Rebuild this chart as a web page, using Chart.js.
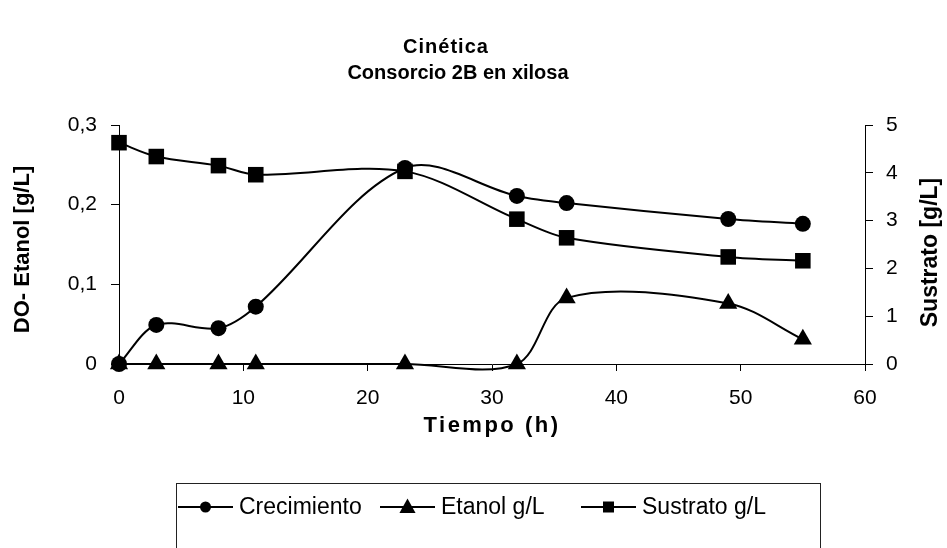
<!DOCTYPE html>
<html>
<head>
<meta charset="utf-8">
<script src="https://cdn.jsdelivr.net/npm/chart.js@4.4.1/dist/chart.umd.min.js"></script>
<style>
  html, body { margin: 0; padding: 0; background: #fff; }
  #chart { display: block; }
</style>
</head>
<body>
<canvas id="chart" width="947" height="548"></canvas>
<script>
// data
const tiempo = [0, 3, 8, 11, 23, 32, 36, 49, 55];
const crecimiento = [0, 0.049, 0.045, 0.072, 0.246, 0.211, 0.202, 0.182, 0.176];
const etanol = [0, 0, 0, 0, 0, 0, 0.083, 0.076, 0.031];
const sustrato = [4.63, 4.34, 4.15, 3.96, 4.03, 3.03, 2.64, 2.24, 2.16];

const xTicks = [0, 10, 20, 30, 40, 50, 60];
const leftTicks = [0, 0.1, 0.2, 0.3];
const rightTicks = [0, 1, 2, 3, 4, 5];

const titleLines = ['Cinética', 'Consorcio 2B en xilosa'];
const xTitle = 'Tiempo (h)';
const leftTitle = 'DO- Etanol [g/L]';
const rightTitle = 'Sustrato [g/L]';
const seriesNames = ['Crecimiento', 'Etanol g/L', 'Sustrato g/L'];

const FONT = '"Liberation Sans", Arial, sans-serif';

const toPoints = (ys) => tiempo.map((x, i) => ({ x, y: ys[i] }));
const fixTicks = (list) => (scale) => { scale.ticks = list.map(v => ({ value: v })); };
const comma = (v) => (v === 0 ? '0' : v.toFixed(1).replace('.', ','));

function drawMarker(ctx, style, x, y, r) {
  ctx.beginPath();
  if (style === 'circle') {
    ctx.arc(x, y, r, 0, Math.PI * 2);
  } else if (style === 'triangle') {
    ctx.moveTo(x, y - r);
    ctx.lineTo(x + r * 0.95, y + r * 0.7);
    ctx.lineTo(x - r * 0.95, y + r * 0.7);
    ctx.closePath();
  } else {
    ctx.rect(x - r, y - r, r * 2, r * 2);
  }
  ctx.fill();
}

const textPlugin = {
  id: 'texts',
  afterDraw(chart) {
    const ctx = chart.ctx;
    const area = chart.chartArea;
    ctx.save();
    ctx.fillStyle = '#000';
    ctx.textAlign = 'center';
    ctx.textBaseline = 'middle';

    // titles
    ctx.font = 'bold 20px ' + FONT;
    ctx.letterSpacing = '1px';
    ctx.fillText(titleLines[0], 446, 47);
    ctx.letterSpacing = '0px';
    ctx.fillText(titleLines[1], 458, 73);

    // axis titles
    ctx.font = 'bold 22px ' + FONT;
    ctx.letterSpacing = '2.5px';
    ctx.fillText(xTitle, (area.left + area.right) / 2, 426);
    ctx.letterSpacing = '0px';

    ctx.save();
    ctx.translate(23, (area.top + area.bottom) / 2 + 5);
    ctx.rotate(-Math.PI / 2);
    ctx.fillText(leftTitle, 0, 0);
    ctx.restore();

    ctx.font = 'bold 23px ' + FONT;
    ctx.save();
    ctx.translate(931, (area.top + area.bottom) / 2 + 8);
    ctx.rotate(-Math.PI / 2);
    ctx.fillText(rightTitle, 0, 0);
    ctx.restore();

    // legend
    const boxL = 176, boxR = 820, boxT = 483, midY = 507;
    ctx.strokeStyle = '#222';
    ctx.lineWidth = 1;
    ctx.strokeRect(boxL + 0.5, boxT + 0.5, boxR - boxL, 120);

    ctx.strokeStyle = '#000';
    ctx.font = '23px ' + FONT;
    ctx.textAlign = 'left';
    const styles = ['circle', 'triangle', 'rect'];
    const sizes = [5.5, 8.5, 5.5];
    const starts = [178, 380, 581];
    const lineLen = 55, gapText = 6;
    seriesNames.forEach((name, i) => {
      const x = starts[i];
      ctx.lineWidth = 2;
      ctx.beginPath();
      ctx.moveTo(x, midY);
      ctx.lineTo(x + lineLen, midY);
      ctx.stroke();
      drawMarker(ctx, styles[i], x + lineLen / 2, midY, sizes[i]);
      ctx.fillText(name, x + lineLen + gapText, midY + 1);
    });
    ctx.restore();
  }
};

const common = {
  borderColor: '#000',
  backgroundColor: '#000',
  pointBackgroundColor: '#000',
  pointBorderColor: '#000',
  borderWidth: 2,
  tension: 0.33,
  clip: false,
  pointBorderWidth: 0
};

new Chart(document.getElementById('chart'), {
  type: 'line',
  data: {
    datasets: [
      { ...common, label: seriesNames[0], data: toPoints(crecimiento), yAxisID: 'y',
        pointStyle: 'circle', pointRadius: 8 },
      { ...common, label: seriesNames[1], data: toPoints(etanol), yAxisID: 'y',
        pointStyle: 'triangle', pointRadius: 10.5 },
      { ...common, label: seriesNames[2], data: toPoints(sustrato), yAxisID: 'y1',
        pointStyle: 'rect', pointRadius: 11 }
    ]
  },
  options: {
    responsive: false,
    animation: false,
    devicePixelRatio: 1,
    layout: { padding: { top: 125, left: 0, right: 0, bottom: 0 } },
    elements: { line: { capBezierPoints: false } },
    plugins: {
      legend: { display: false },
      title: { display: false },
      tooltip: { enabled: false }
    },
    scales: {
      x: {
        type: 'linear',
        min: 0,
        max: 60,
        afterBuildTicks: fixTicks(xTicks),
        afterFit: (s) => { s.height = 184; },
        ticks: { color: '#000', font: { family: FONT, size: 21 }, padding: 15, maxRotation: 0 },
        grid: { drawOnChartArea: false, color: '#000', tickLength: 7, lineWidth: 1 },
        border: { color: '#000', width: 1 }
      },
      y: {
        position: 'left',
        min: 0,
        max: 0.3,
        afterBuildTicks: fixTicks(leftTicks),
        afterFit: (s) => { s.width = 119; },
        ticks: { color: '#000', font: { family: FONT, size: 21 }, padding: 14, callback: comma },
        grid: { drawOnChartArea: false, color: '#000', tickLength: 8, lineWidth: 1 },
        border: { color: '#000', width: 1 }
      },
      y1: {
        position: 'right',
        min: 0,
        max: 5,
        afterBuildTicks: fixTicks(rightTicks),
        afterFit: (s) => { s.width = 82; },
        ticks: { color: '#000', font: { family: FONT, size: 21 }, padding: 13 },
        grid: { drawOnChartArea: false, color: '#000', tickLength: 8, lineWidth: 1 },
        border: { color: '#000', width: 1 }
      }
    }
  },
  plugins: [textPlugin]
});
</script>
</body>
</html>
